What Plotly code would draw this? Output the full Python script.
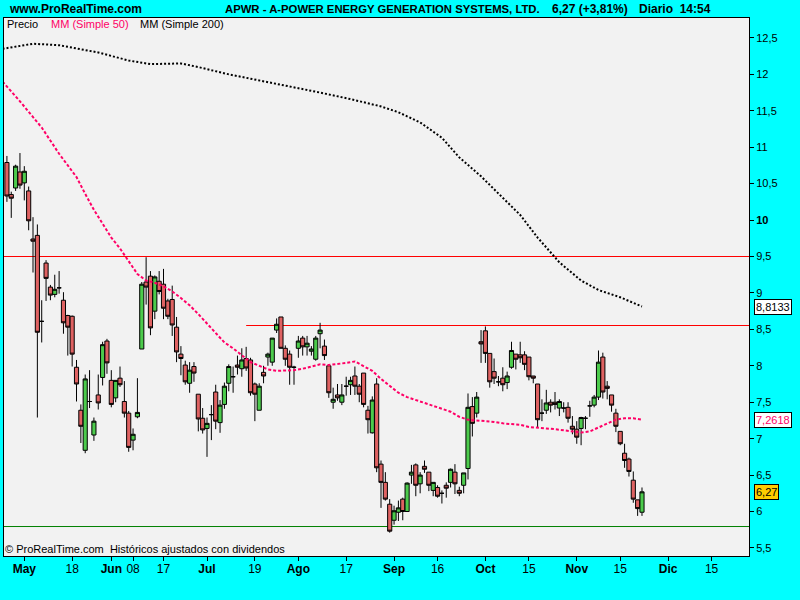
import pandas as pd
import plotly.graph_objects as go

# ---------------- data ----------------
HOLIDAYS = ["2010-05-31", "2010-07-05", "2010-09-06", "2010-11-25", "2010-12-24"]
FIRST_CANDLE = "2010-04-27"
N_CANDLES = 147

opens = [10.79, 10.35, 10.44, 10.66, 10.51, 10.40, 9.74, 9.79, 8.61, 9.41,
         9.08, 8.98, 9.07, 8.90, 8.69, 8.68, 7.98, 7.39, 6.84, 7.51,
         7.05, 7.60, 7.84, 8.34, 7.80, 7.56, 7.83, 7.51, 7.35, 6.98,
         7.30, 8.23, 9.15, 9.23, 8.75, 9.16, 9.12, 8.89, 8.91, 8.53,
         8.16, 8.01, 7.76, 7.99, 7.61, 7.28, 7.14, 7.33, 7.64, 7.22,
         7.47, 7.76, 7.85, 8.01, 7.96, 8.10, 8.08, 7.75, 7.39, 7.91,
         8.12, 8.05, 8.49, 8.67, 8.24, 8.16, 7.98, 8.24, 8.38, 8.26,
         8.20, 8.09, 8.44, 8.27, 8.00, 7.50, 7.60, 7.50, 7.72, 7.74,
         7.86, 7.72, 7.90, 7.39, 7.08, 7.75, 6.65, 6.40, 6.10, 5.88,
         5.99, 6.17, 6.00, 6.50, 6.64, 6.38, 6.62, 6.54, 6.29, 6.33,
         6.25, 6.36, 6.40, 6.54, 6.29, 6.36, 6.59, 7.44, 7.35, 8.33,
         8.48, 8.17, 7.92, 7.78, 7.83, 7.77, 7.98, 8.16, 8.15, 8.15,
         8.12, 7.86, 7.75, 7.35, 7.39, 7.50, 7.50, 7.42, 7.42, 7.43,
         7.17, 7.13, 7.14, 7.28, 7.45, 7.46, 7.57, 8.12, 7.72, 7.60,
         7.35, 7.10, 6.80, 6.72, 6.43, 6.16, 5.99]
highs = [10.88, 10.39, 10.76, 10.92, 10.74, 10.46, 10.04, 9.94, 8.90, 9.45,
         9.11, 9.25, 9.30, 9.01, 8.70, 8.69, 8.08, 7.47, 7.88, 7.94,
         7.29, 7.88, 8.33, 8.37, 7.94, 7.80, 7.99, 7.79, 7.38, 7.14,
         7.83, 9.15, 9.49, 9.30, 9.24, 9.30, 9.33, 8.92, 9.10, 8.67,
         8.27, 8.07, 8.05, 8.05, 7.61, 7.42, 7.29, 7.46, 7.74, 7.53,
         7.77, 8.02, 7.99, 8.14, 8.24, 8.26, 8.11, 7.77, 7.76, 8.00,
         8.18, 8.38, 8.65, 8.67, 8.28, 8.21, 8.00, 8.41, 8.41, 8.41,
         8.27, 8.41, 8.59, 8.36, 8.00, 7.70, 7.75, 7.75, 7.85, 7.85,
         7.99, 7.75, 7.90, 7.45, 7.58, 7.83, 6.70, 6.54, 6.17, 6.08,
         6.15, 6.19, 6.40, 6.64, 6.66, 6.54, 6.70, 6.54, 6.40, 6.36,
         6.29, 6.40, 6.59, 6.65, 6.34, 6.53, 7.62, 7.57, 7.64, 8.49,
         8.54, 8.17, 8.10, 7.86, 7.98, 7.92, 8.33, 8.16, 8.33, 8.20,
         8.12, 7.86, 7.75, 7.54, 7.67, 7.54, 7.64, 7.54, 7.50, 7.50,
         7.31, 7.24, 7.30, 7.31, 7.52, 7.60, 8.21, 8.18, 7.79, 7.60,
         7.41, 7.10, 6.93, 6.74, 6.55, 6.16, 6.33]
lows = [10.25, 10.03, 10.40, 10.43, 10.27, 9.86, 9.28, 7.29, 8.32, 8.89,
        8.90, 8.94, 8.99, 8.44, 8.14, 7.99, 7.51, 6.94, 6.80, 7.42,
        6.97, 7.40, 7.73, 7.89, 7.43, 7.50, 7.71, 7.29, 6.82, 6.84,
        7.28, 8.23, 8.84, 8.42, 8.64, 8.98, 8.64, 8.64, 8.41, 8.05,
        7.87, 7.74, 7.63, 7.78, 7.10, 7.07, 6.75, 6.98, 7.13, 7.08,
        7.41, 7.65, 7.63, 7.88, 7.85, 7.93, 7.59, 7.24, 7.39, 7.76,
        8.00, 8.00, 8.45, 8.24, 8.00, 7.74, 7.74, 8.11, 8.14, 8.14,
        8.14, 8.07, 8.24, 8.08, 7.56, 7.41, 7.52, 7.46, 7.59, 7.60,
        7.60, 7.50, 7.43, 7.07, 7.07, 6.54, 6.05, 6.15, 5.71, 5.82,
        5.87, 5.88, 6.00, 6.38, 6.21, 6.25, 6.53, 6.28, 6.21, 6.19,
        6.11, 6.19, 6.33, 6.24, 6.21, 6.25, 6.44, 7.03, 7.29, 8.04,
        8.04, 7.70, 7.75, 7.72, 7.65, 7.68, 7.96, 7.95, 8.04, 7.94,
        7.80, 7.76, 7.16, 7.24, 7.34, 7.36, 7.40, 7.31, 7.36, 7.22,
        7.06, 6.93, 6.91, 7.13, 7.30, 7.43, 7.53, 7.55, 7.54, 7.37,
        7.09, 6.91, 6.60, 6.48, 6.12, 5.94, 5.94]
closes = [10.33, 10.30, 10.74, 10.48, 10.67, 9.99, 9.71, 8.46, 8.61, 9.20,
          8.97, 9.05, 9.07, 8.59, 8.53, 8.16, 7.75, 7.17, 7.82, 7.51,
          7.24, 7.49, 8.29, 8.04, 7.47, 7.80, 7.74, 7.35, 6.88, 7.06,
          7.36, 9.12, 9.08, 8.52, 9.22, 9.02, 8.79, 8.68, 8.56, 8.19,
          8.10, 7.78, 7.94, 7.90, 7.27, 7.12, 7.21, 7.33, 7.24, 7.46,
          7.72, 7.99, 7.85, 7.98, 8.08, 7.97, 7.63, 7.61, 7.72, 7.86,
          8.16, 8.38, 8.57, 8.24, 8.09, 7.98, 7.98, 8.34, 8.26, 8.31,
          8.23, 8.38, 8.49, 8.14, 7.63, 7.54, 7.56, 7.60, 7.72, 7.80,
          7.72, 7.61, 7.47, 7.26, 7.53, 6.60, 6.40, 6.17, 5.73, 6.01,
          6.05, 6.00, 6.39, 6.54, 6.36, 6.50, 6.58, 6.36, 6.40, 6.21,
          6.25, 6.32, 6.58, 6.38, 6.25, 6.53, 7.43, 7.21, 7.57, 8.30,
          8.17, 7.78, 7.83, 7.78, 7.74, 7.86, 8.21, 8.09, 8.11, 8.02,
          7.85, 7.83, 7.26, 7.35, 7.49, 7.46, 7.47, 7.51, 7.42, 7.28,
          7.13, 7.02, 7.29, 7.28, 7.45, 7.57, 8.05, 7.64, 7.69, 7.46,
          7.17, 6.93, 6.70, 6.55, 6.17, 6.04, 6.27]

ma50_dates = ["2010-04-26", "2010-04-30", "2010-05-07", "2010-05-13", "2010-05-17", "2010-05-19",
              "2010-05-21", "2010-05-25", "2010-05-27", "2010-06-01", "2010-06-03", "2010-06-07",
              "2010-06-09", "2010-06-11", "2010-06-15", "2010-06-17", "2010-06-21", "2010-06-23",
              "2010-06-25", "2010-06-29", "2010-07-01", "2010-07-06", "2010-07-08", "2010-07-12",
              "2010-07-14", "2010-07-16", "2010-07-20", "2010-07-22", "2010-07-26", "2010-07-28",
              "2010-07-30", "2010-08-03", "2010-08-05", "2010-08-09", "2010-08-11", "2010-08-13",
              "2010-08-17", "2010-08-19", "2010-08-23", "2010-08-25", "2010-08-27", "2010-08-31",
              "2010-09-02", "2010-09-07", "2010-09-09", "2010-09-13", "2010-09-15", "2010-09-17",
              "2010-09-21", "2010-09-23", "2010-09-27", "2010-09-29", "2010-10-01", "2010-10-05",
              "2010-10-07", "2010-10-11", "2010-10-13", "2010-10-15", "2010-10-19", "2010-10-21",
              "2010-10-25", "2010-10-27", "2010-10-29", "2010-11-02", "2010-11-04", "2010-11-08",
              "2010-11-10", "2010-11-12", "2010-11-16", "2010-11-18", "2010-11-22"]
ma50_values = [11.90, 11.63, 11.27, 10.91, 10.75, 10.59,
               10.36, 10.14, 9.95, 9.76, 9.61, 9.44,
               9.26, 9.17, 9.14, 9.09, 9.02, 8.93,
               8.83, 8.71, 8.58, 8.44, 8.32, 8.24,
               8.14, 8.05, 8.00, 7.95, 7.93, 7.93,
               7.94, 7.96, 7.99, 8.02, 8.01, 8.02,
               8.04, 8.06, 8.00, 7.93, 7.82, 7.72,
               7.63, 7.57, 7.53, 7.49, 7.46, 7.42,
               7.37, 7.30, 7.26, 7.25, 7.245, 7.23,
               7.21, 7.20, 7.19, 7.16, 7.145, 7.14,
               7.13, 7.115, 7.105, 7.085, 7.10, 7.15,
               7.21, 7.26, 7.28, 7.28, 7.2618]

ma200_dates = ["2010-04-26", "2010-05-05", "2010-05-13", "2010-05-26", "2010-06-07", "2010-06-14",
               "2010-06-23", "2010-06-29", "2010-07-09", "2010-07-20", "2010-07-29", "2010-08-09",
               "2010-08-18", "2010-08-27", "2010-09-02", "2010-09-10", "2010-09-17", "2010-09-23",
               "2010-09-30", "2010-10-06", "2010-10-13", "2010-10-19", "2010-10-26", "2010-11-02",
               "2010-11-08", "2010-11-15", "2010-11-22"]
ma200_values = [12.35, 12.42, 12.40, 12.30, 12.19, 12.14,
                12.15, 12.10, 12.00, 11.92, 11.83, 11.75,
                11.66, 11.56, 11.48, 11.34, 11.13, 10.86,
                10.60, 10.37, 10.07, 9.76, 9.42, 9.17,
                9.04, 8.94, 8.8133]

hlines = [9.5, 5.794]
resistance_level = 8.553
resistance_start = "2010-07-15"

tick_dates = ["2010-05-03", "2010-05-18", "2010-06-01", "2010-06-08", "2010-06-17", "2010-07-01",
              "2010-07-19", "2010-08-02", "2010-08-17", "2010-09-01", "2010-09-16", "2010-10-01",
              "2010-10-15", "2010-11-01", "2010-11-15", "2010-12-01", "2010-12-15"]
tick_labels = ["<b>May</b>", "18", "<b>Jun</b>", "08", "17", "<b>Jul</b>", "19", "<b>Ago</b>", "17",
               "<b>Sep</b>", "16", "<b>Oct</b>", "15", "<b>Nov</b>", "15", "<b>Dic</b>", "15"]
y_ticks = [5.5, 6, 6.5, 7, 7.5, 8, 8.5, 9, 9.5, 10, 10.5, 11, 11.5, 12, 12.5]
y_labels = ["5,5", "6", "6,5", "7", "7,5", "8", "8,5", "9", "9,5", "<b>10</b>", "10,5", "11", "11,5", "12", "12,5"]

# ---------------- trading-day scale ----------------
cal = [d.strftime("%Y-%m-%d") for d in pd.bdate_range("2010-04-26", "2010-12-31")
       if d.strftime("%Y-%m-%d") not in HOLIDAYS]
pos = {d: i for i, d in enumerate(cal)}
start = pos[FIRST_CANDLE]
candle_x = list(range(start, start + N_CANDLES))

GREEN = "#4CCB4C"
RED = "#DF6262"
PINK = "#FF0066"
FONT = "Liberation Sans, Arial, sans-serif"

fig = go.Figure()
fig.add_trace(go.Candlestick(
    x=candle_x, open=opens, high=highs, low=lows, close=closes,
    increasing=dict(line=dict(color="black", width=1), fillcolor=GREEN),
    decreasing=dict(line=dict(color="black", width=1), fillcolor=RED),
    whiskerwidth=0, hoverinfo="skip", showlegend=False))
fig.add_trace(go.Scatter(x=[pos[d] for d in ma200_dates], y=ma200_values, mode="lines",
                         line=dict(color="black", width=2, dash="2px,2px"), showlegend=False, hoverinfo="skip"))
fig.add_trace(go.Scatter(x=[pos[d] for d in ma50_dates], y=ma50_values, mode="lines",
                         line=dict(color=PINK, width=2, dash="3px,2px"), showlegend=False, hoverinfo="skip"))

x0 = pos["2010-05-03"] - 4.67
x1 = pos["2010-05-03"] + 166.6

shapes = [
    dict(type="line", xref="paper", yref="y", x0=0, x1=1, y0=hlines[0], y1=hlines[0],
         line=dict(color="#FF0000", width=1), layer="below"),
    dict(type="line", xref="paper", yref="y", x0=0, x1=1, y0=hlines[1], y1=hlines[1],
         line=dict(color="#008000", width=1), layer="below"),
    dict(type="line", xref="x", yref="y", x0=pos[resistance_start], x1=x1,
         y0=resistance_level, y1=resistance_level, line=dict(color="#FF0000", width=1), layer="below"),
]

def px_x(px):
    return (px - 4) / 745.0

def px_y(py):
    return (556 - py) / 538.0

ann = []
def txt(text, xpx, ypx, size=11, color="black", bold=False):
    ann.append(dict(text=("<b>%s</b>" % text) if bold else text, xref="paper", yref="paper",
                    x=px_x(xpx), y=px_y(ypx), xanchor="left", yanchor="middle", showarrow=False,
                    font=dict(family=FONT, size=size, color=color)))

txt("www.ProRealTime.com", 7, 9, 12, bold=True)
txt("APWR - A-POWER ENERGY GENERATION SYSTEMS, LTD.", 223, 9, 11.3, bold=True)
txt("6,27 (+3,81%)", 550, 9, 12, bold=True)
txt("Diario\u00a0\u00a014:54", 637, 9, 12, bold=True)
txt("Precio", 5, 24, 11)
txt("MM (Simple 50)", 49, 24, 11, color=PINK)
txt("MM (Simple 200)", 138, 24, 11)
txt("\u00a9 ProRealTime.com\u00a0\u00a0Hist\u00f3ricos ajustados con dividendos", 3, 549, 11)

def box(text, yval, color, bg):
    ann.append(dict(text=text, xref="paper", yref="y", x=px_x(754), y=yval, xanchor="left",
                    yanchor="middle", showarrow=False, bgcolor=bg, bordercolor="black",
                    borderwidth=1, borderpad=1, font=dict(family=FONT, size=11, color=color)))

box("8,8133", ma200_values[-1], "black", "white")
box("7,2618", ma50_values[-1], PINK, "white")
box("6,27", closes[-1], "black", "#FFCC00")

fig.update_layout(
    width=800, height=600, paper_bgcolor="#00FFFF", plot_bgcolor="#F2F2F2",
    margin=dict(l=4, r=51, t=18, b=44), showlegend=False, boxgap=0.05, boxgroupgap=0.0,
    font=dict(family=FONT, size=11, color="black"),
    shapes=shapes, annotations=ann,
    xaxis=dict(range=[x0, x1], tickvals=[pos[d] for d in tick_dates], ticktext=tick_labels,
               ticks="outside", ticklen=4, tickcolor="black", showgrid=False, zeroline=False,
               showline=True, linecolor="black", linewidth=1, mirror=True, ticklabelstandoff=-2,
               rangeslider=dict(visible=False), tickfont=dict(family=FONT, size=12, color="black")),
    yaxis=dict(side="right", range=[5.3894, 12.7734], tickvals=y_ticks, ticktext=y_labels,
               ticks="outside", ticklen=4, tickcolor="black", showgrid=False, zeroline=False,
               showline=True, linecolor="black", linewidth=1, mirror=True,
               tickfont=dict(family=FONT, size=11, color="black")),
)

fig.write_html("out.html", config={"displayModeBar": False},
               post_script="document.body.style.margin='0';document.body.style.overflow='hidden';")
